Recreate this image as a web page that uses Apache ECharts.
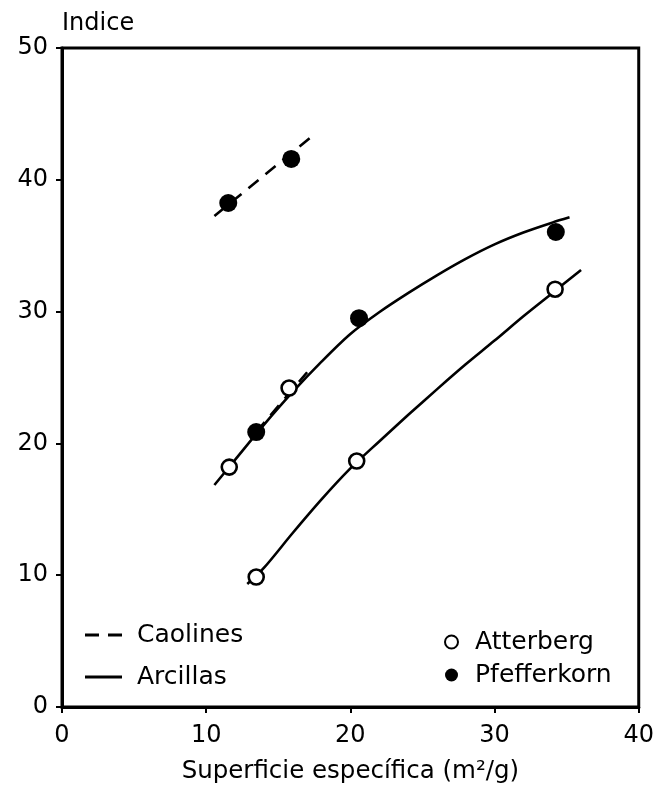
<!DOCTYPE html>
<html>
<head>
<meta charset="utf-8">
<script src="https://cdn.jsdelivr.net/npm/echarts@6/dist/echarts.min.js"></script>
<style>
  html, body { margin: 0; padding: 0; background: #fff; }
  #chart { width: 657px; height: 798px; }
</style>
</head>
<body>
<div id="chart"></div>
<script>
// curves: [superficie, indice]
const caolinesPfefferkornLine = [[10.57, 37.25], [17.33, 43.3]]
const caolinesAtterbergLine = [[13.47, 20.86], [17.0, 25.4]]
const arcillasUpperLine = [
  [10.57, 16.84], [12, 18.75], [14, 21.4], [16, 23.9], [18, 26.2], [20, 28.3],
  [22, 29.95], [24, 31.4], [26, 32.75], [28, 34.0], [30, 35.1], [32, 36.0],
  [34, 36.75], [35.2, 37.15]
]
const arcillasLowerLine = [
  [12.85, 9.33], [14, 10.55], [16, 13.2], [18, 15.75], [20, 18.1], [22, 20.15],
  [24, 22.15], [26, 24.1], [28, 26.0], [30, 27.8], [32, 29.65], [34, 31.4], [36, 33.16]
]
// measured points
const atterbergPoints = [[11.6, 18.2], [15.75, 24.2], [13.47, 9.86], [20.44, 18.66], [34.2, 31.7]]
const pfefferkornPoints = [[11.53, 38.24], [15.9, 41.58], [13.47, 20.86], [20.6, 29.5], [34.25, 36.04]]

const xTicks = [0, 10, 20, 30, 40]
const yTicks = [0, 10, 20, 30, 40, 50]

const font = 'DejaVu Sans'
const chart = echarts.init(document.getElementById('chart'))

const lineSeries = (name, data, type, smooth) => ({
  name,
  type: 'line',
  data,
  smooth,
  symbol: 'none',
  lineStyle: { color: '#000', width: 2.6, type },
  itemStyle: { color: '#000' },
  z: 2,
  silent: true
})

const legendText = { fontFamily: font, fontSize: 25, color: '#000', lineHeight: 28 }

const option = {
  animation: false,
  backgroundColor: '#fff',
  grid: {
    left: 62, right: 16, top: 48, bottom: 91,
    show: true, borderColor: '#000', borderWidth: 3, backgroundColor: 'transparent'
  },
  legend: [
    {
      data: [
        { name: 'Caolines', icon: 'path://M0,0L14,0L14,3L0,3Z M23,0L37,0L37,3L23,3Z' },
        { name: 'Arcillas', icon: 'path://M0,0L37,0L37,3L0,3Z' }
      ],
      orient: 'vertical',
      left: 80, top: 616,
      itemWidth: 37, itemHeight: 3, itemGap: 14,
      itemStyle: { color: '#000', borderWidth: 0 },
      textStyle: Object.assign({ padding: [0, 0, 0, 10] }, legendText)
    },
    {
      data: ['Atterberg', 'Pfefferkorn'],
      orient: 'vertical',
      left: 439, top: 623,
      itemWidth: 13, itemHeight: 13, itemGap: 5,
      textStyle: Object.assign({ padding: [0, 0, 0, 12] }, legendText)
    }
  ],
  xAxis: {
    type: 'value',
    min: xTicks[0], max: xTicks[xTicks.length - 1], interval: 10,
    name: 'Superficie específica (m²/g)',
    nameLocation: 'middle', nameGap: 52,
    nameTextStyle: { fontFamily: font, fontSize: 24.5, color: '#000' },
    axisLine: { lineStyle: { color: '#000', width: 3 } },
    axisTick: { length: 6, lineStyle: { color: '#000', width: 2 } },
    axisLabel: { fontFamily: font, fontSize: 24, color: '#000', margin: 17 },
    splitLine: { show: false }
  },
  yAxis: {
    type: 'value',
    min: yTicks[0], max: yTicks[yTicks.length - 1], interval: 10,
    name: 'Indice',
    nameLocation: 'end', nameGap: 12,
    nameTextStyle: { fontFamily: font, fontSize: 24, color: '#000', align: 'left' },
    axisLine: { lineStyle: { color: '#000', width: 3 } },
    axisTick: { length: 6, lineStyle: { color: '#000', width: 2 } },
    axisLabel: { fontFamily: font, fontSize: 24, color: '#000', margin: 14 },
    splitLine: { show: false }
  },
  series: [
    lineSeries('Caolines', caolinesPfefferkornLine, [13, 9], false),
    lineSeries('Caolines', caolinesAtterbergLine, [13, 9], false),
    lineSeries('Arcillas', arcillasUpperLine, 'solid', 0.3),
    lineSeries('Arcillas', arcillasLowerLine, 'solid', 0.3),
    {
      name: 'Atterberg',
      type: 'scatter',
      data: atterbergPoints,
      symbol: 'circle',
      symbolSize: 15,
      itemStyle: { color: '#fff', borderColor: '#000', borderWidth: 2.6, opacity: 1 },
      z: 4
    },
    {
      name: 'Pfefferkorn',
      type: 'scatter',
      data: pfefferkornPoints,
      symbol: 'circle',
      symbolSize: 18,
      itemStyle: { color: '#000', opacity: 1 },
      z: 5
    }
  ]
}

chart.setOption(option)
</script>
</body>
</html>
